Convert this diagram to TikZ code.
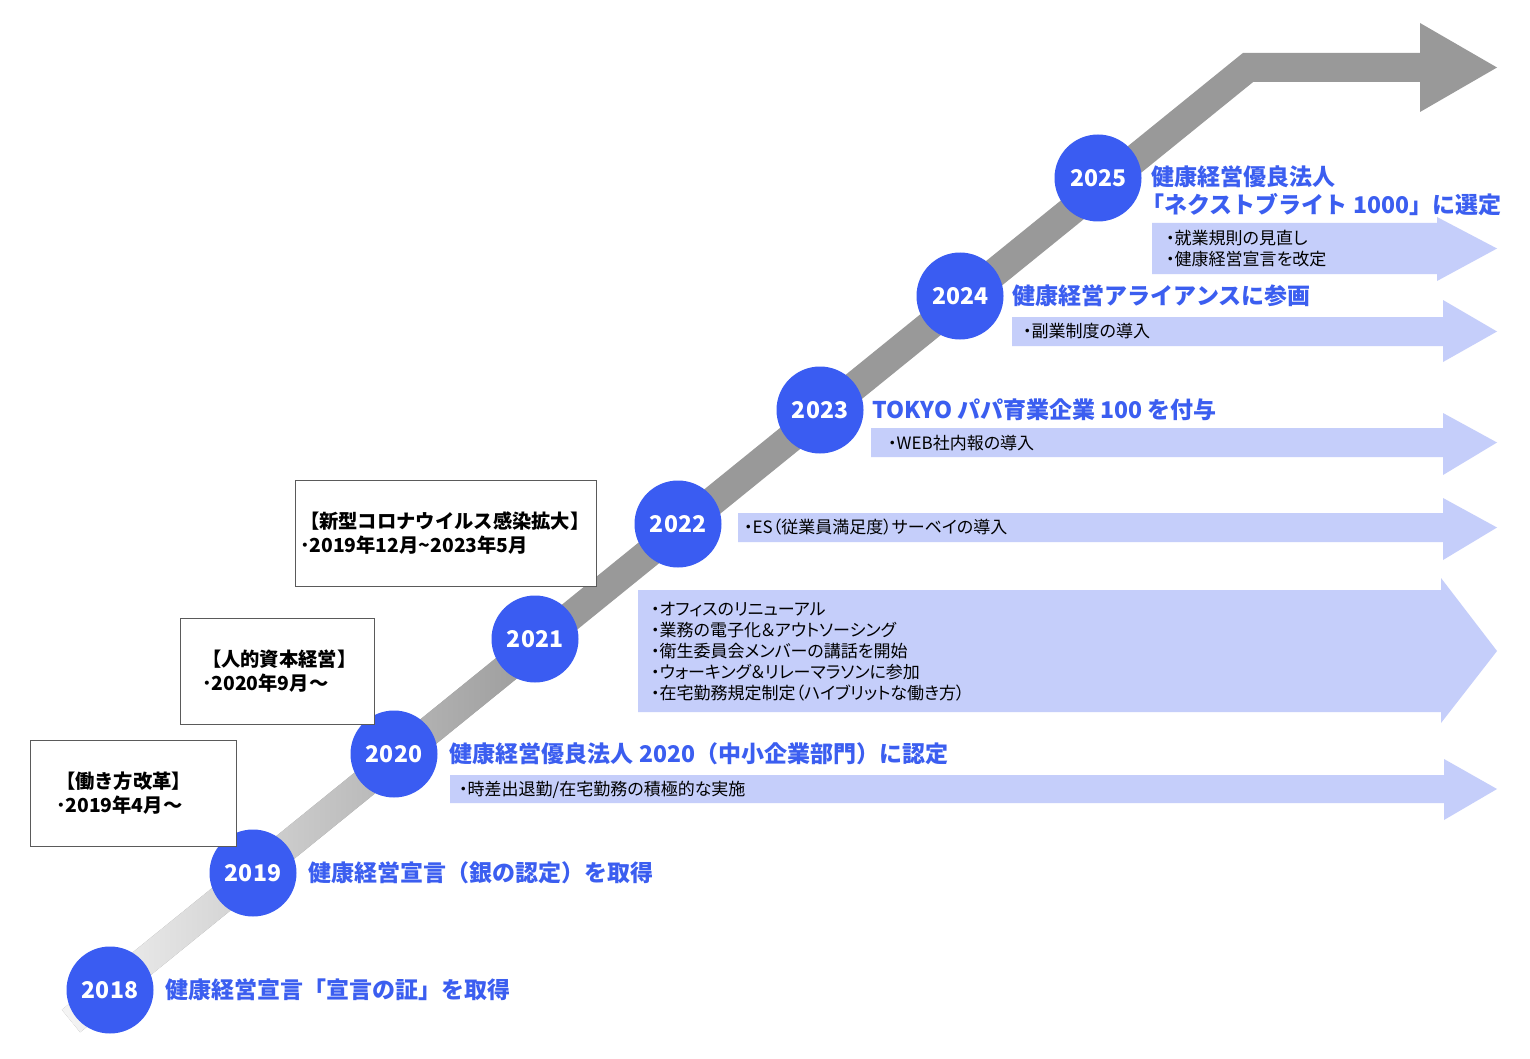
\documentclass[tikz,border=0pt]{standalone}
\usepackage{fontspec}
\usepackage{xcolor}
\usepackage{tikz}
\usetikzlibrary{positioning,calc}
\setmainfont{Noto Sans CJK JP}
\newfontfamily\jpprop{Noto Sans CJK JP}[RawFeature=+palt]
\definecolor{circblue}{RGB}{58,92,242}
\definecolor{titleblue}{RGB}{59,94,240}
\definecolor{periodfill}{RGB}{197,206,250}
\definecolor{bandgray}{RGB}{153,153,153}
\definecolor{boxline}{RGB}{90,90,90}

\tikzset{
  yearnode/.style={circle, fill=circblue, minimum size=87pt, inner sep=0pt,
    text=white, font=\fontsize{23}{27}\selectfont\bfseries},
  titlenode/.style={text=titleblue, inner sep=0pt, align=left,
    font=\fontsize{23}{28}\selectfont\bfseries},
  itemnode/.style={inner sep=0pt, align=left, anchor=west,
    font=\jpprop\fontsize{17}{21}\selectfont},
  notebox/.style={draw=boxline, fill=white, line width=1pt, minimum height=106pt,
    align=left, font=\fontsize{19.3}{24}\selectfont\bfseries},
  band/.style={draw=bandgray, line width=29pt, line join=miter},
}

\begin{document}
\begin{tikzpicture}[x=1pt, y=-1pt]
\fill[white] (0,0) rectangle (1530,1059);
\useasboundingbox (0,0) rectangle (1530,1059);

% grey time band
\coordinate (start) at (71,1021);
\coordinate (bend) at (1248,67.5);
\coordinate (headbase) at (1421,67.5);
\coordinate (tip) at (1497,67.5);
\coordinate (fadeend) at ($(start)!0.4!(bend)$);
\draw[band] (start) -- (bend) -- (headbase);
\fill[bandgray] (1420,23) -- (tip) -- (1420,112) -- cycle;
\shade[left color=bandgray!10, right color=bandgray]
  ($(start)!14.5pt!90:(bend)$) -- ($(start)!14.5pt!-90:(bend)$)
  -- ($(fadeend)!14.5pt!-90:(bend)$) -- ($(fadeend)!14.5pt!90:(bend)$) -- cycle;

% years
\node[yearnode] (y2018) at (110,990) {2018};
\node[yearnode] (y2019) at (253,873) {2019};
\node[yearnode] (y2020) at (394,754) {2020};
\node[yearnode] (y2021) at (535,639) {2021};
\node[yearnode] (y2022) at (678,524) {2022};
\node[yearnode] (y2023) at (820,410) {2023};
\node[yearnode] (y2024) at (960,296) {2024};
\node[yearnode] (y2025) at (1098,178) {2025};

% period arrows
\foreach \xl/\yt/\yb/\ht/\hb/\xb in {1152/223/274/217/281/1437, 1012/317/346/300/362/1443,
    871/428/457/413/475/1443, 738/513/542/498/560/1443, 638/590/712/578/723/1441,
    450/775/803/759/820/1444}
  \fill[periodfill] (\xl,\yt) -- (\xb,\yt) -- (\xb,\ht) -- (1497,{(\yt+\yb)/2})
    -- (\xb,\hb) -- (\xb,\yb) -- (\xl,\yb) -- cycle;

% titles
\node[titlenode, right=12pt of y2018] (t2018) {健康経営宣言「宣言の証」を取得};
\node[titlenode, right=12pt of y2019] (t2019) {健康経営宣言（銀の認定）を取得};
\node[titlenode, right=12pt of y2020] (t2020) {健康経営優良法人 2020（中小企業部門）に認定};
\node[titlenode, right=9pt of y2023] (t2023) {TOKYO パパ育業企業 100 を付与};
\node[titlenode, right=9pt of y2024] (t2024) {健康経営アライアンスに参画};
\node[titlenode, right=10pt of y2025, yshift=-13pt] (t2025)
  {健康経営優良法人\\\kern-0.45em「ネクストブライト 1000」に選定};

% items
\node[itemnode] (i2025) at (1166,248.5) {・就業規則の見直し\\・健康経営宣言を改定};
\node[itemnode] (i2024) at (1023,331) {・副業制度の導入};
\node[itemnode] (i2023) at (888,443) {・WEB社内報の導入};
\node[itemnode] (i2022) at (744,527) {・ES（従業員満足度）サーベイの導入};
\node[itemnode] (i2021) at (651,651.5) {・オフィスのリニューアル\\・業務の電子化＆アウトソーシング\\・衛生委員会メンバーの講話を開始\\・ウォーキング＆リレーマラソンに参加\\・在宅勤務規定制定（ハイブリットな働き方）};
\node[itemnode] (i2020) at (459,790) {・時差出退勤/在宅勤務の積極的な実施};

% notes
\node[notebox, minimum width=206pt, text width=154pt, inner xsep=26pt] (boxwork)
  at (133,793) {【働き方改革】\\･2019年4月～};
\node[notebox, minimum width=194pt, text width=150pt, inner xsep=22pt] (boxhuman)
  at (277,671) {【人的資本経営】\\･2020年9月～};
\node[notebox, minimum width=301pt, text width=291pt, inner xsep=5pt] (boxcovid)
  at (445.5,533.5) {【新型コロナウイルス感染拡大】\\･2019年12月\textasciitilde 2023年5月};
\end{tikzpicture}
\end{document}
